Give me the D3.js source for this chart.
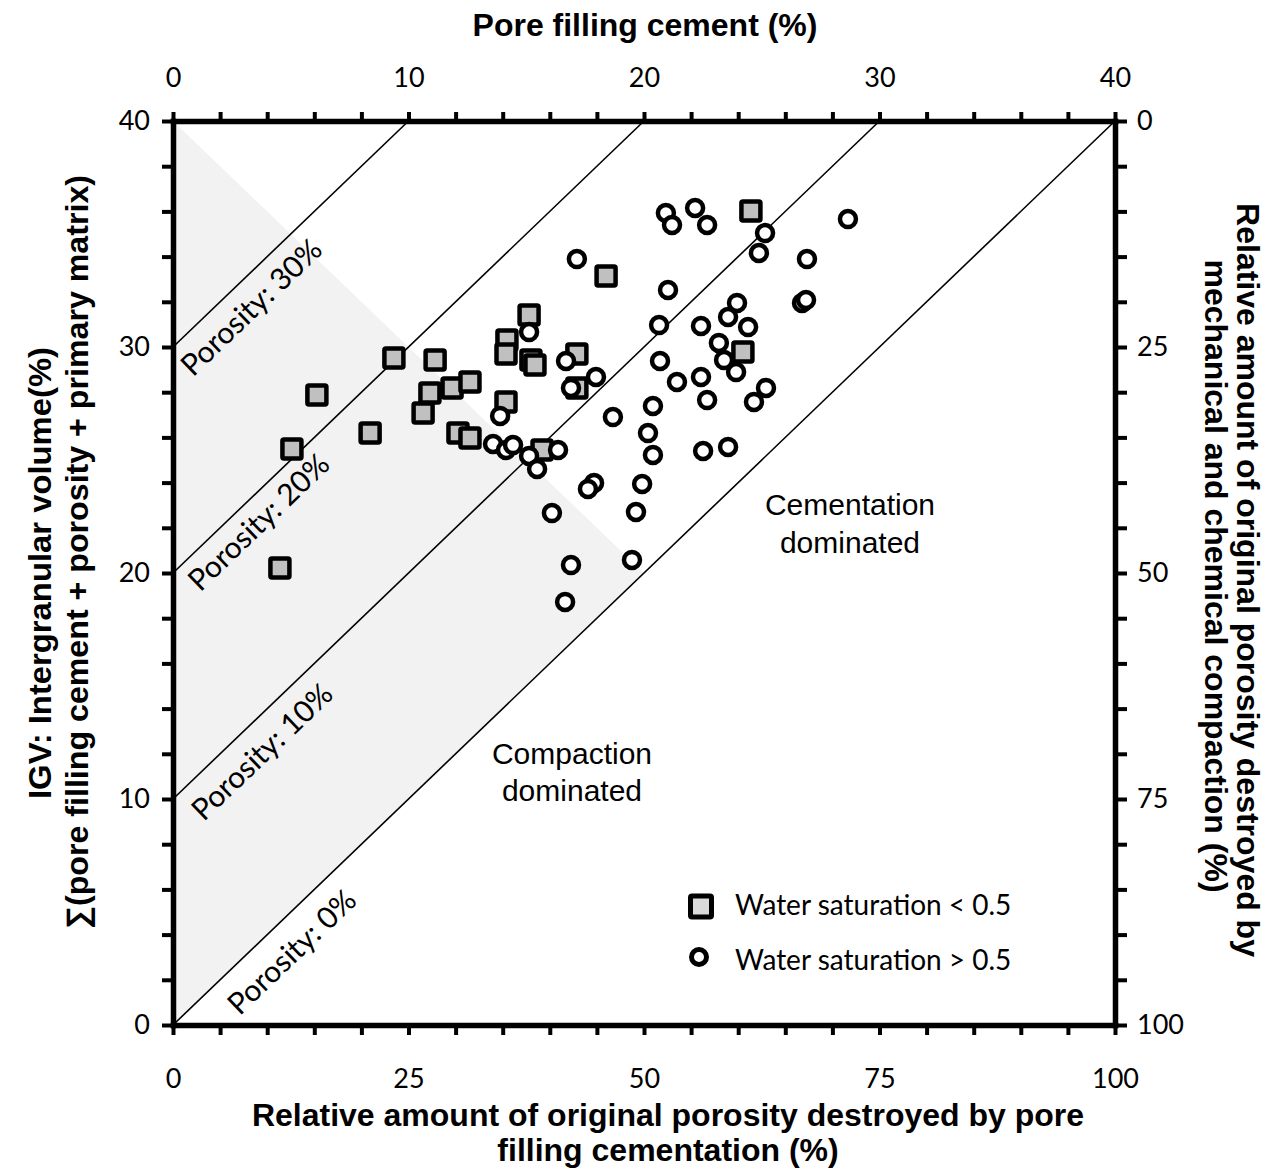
<!DOCTYPE html>
<html><head><meta charset="utf-8">
<script src="https://cdn.jsdelivr.net/npm/d3@7"></script>
<style>body{margin:0;background:#fff}</style>
</head><body>
<svg id="chart" width="1269" height="1174"></svg>
<script>
// ---- data ----
const topTicks = [0, 10, 20, 30, 40];          // Pore filling cement (%)
const bottomTicks = [0, 25, 50, 75, 100];      // Relative porosity destroyed by cementation (%)
const leftTicks = [0, 10, 20, 30, 40];         // IGV (%)
const rightTicks = [0, 25, 50, 75, 100];       // Relative porosity destroyed by compaction (%)
const porosityLevels = [0, 10, 20, 30];

// Water saturation < 0.5 (squares): pore filling cement (%), IGV (%)
const lowSwCement = [4.54, 5.05, 6.11, 8.37, 9.38, 11.13, 10.62, 10.91, 11.85, 12.61, 12.10, 12.61,
  14.14, 15.12, 14.18, 14.14, 15.20, 15.37, 17.15, 17.15, 15.67, 18.39, 24.54, 24.20];
const lowSwIGV = [20.22, 25.49, 27.88, 26.19, 29.51, 29.42, 27.08, 27.96, 28.19, 28.45, 26.19, 25.97,
  27.57, 31.42, 30.31, 29.69, 29.42, 29.20, 29.69, 28.19, 25.44, 33.14, 36.02, 29.78];

// Water saturation > 0.5 (circles)
const highSwCement = [20.93, 21.19, 22.17, 22.68, 25.14, 24.88, 28.66, 26.92, 17.15, 21.02, 23.95, 23.57,
  24.42, 26.71, 26.88, 20.64, 22.42, 23.18, 23.40, 23.91, 20.68, 22.42, 21.40, 22.68, 24.67, 25.18,
  20.38, 18.68, 20.17, 20.38, 22.51, 23.57, 17.88, 17.62, 19.92, 19.66, 16.09, 19.49, 16.90, 16.65,
  15.12, 16.69, 17.96, 16.90, 13.89, 13.59, 14.14, 14.44, 15.12, 15.46, 16.35];
const highSwIGV = [35.93, 35.40, 36.15, 35.40, 35.04, 34.16, 35.66, 33.89, 33.89, 32.52, 31.95, 31.33,
  30.88, 31.95, 32.08, 30.97, 30.93, 30.18, 29.42, 28.89, 29.38, 28.67, 28.45, 27.65, 27.57, 28.19,
  27.39, 26.90, 26.19, 25.22, 25.40, 25.58, 23.98, 23.72, 23.94, 22.70, 22.65, 20.58, 20.35, 18.72,
  30.66, 29.38, 28.67, 28.19, 26.95, 25.71, 25.44, 25.66, 25.18, 24.60, 25.44];

// ---- layout ----
const L = 173, R = 1115, T = 121, B = 1025;
const svg = d3.select('#chart');
const x = d3.scaleLinear().domain([0, 40]).range([L, R]);     // top: cement
const xb = d3.scaleLinear().domain([0, 100]).range([L, R]);   // bottom
const y = d3.scaleLinear().domain([0, 40]).range([B, T]);     // left: IGV
const yr = d3.scaleLinear().domain([0, 100]).range([T, B]);   // right

const calibri = "Lato, 'Open Sans', sans-serif";
const arial = "'Liberation Sans', Arial, sans-serif";

// shaded compaction-dominated triangle
svg.append('path')
  .attr('d', d3.line()([[x(0), y(40)], [x(0), y(0)], [x(20), y(20)]]) + 'Z')
  .attr('fill', '#f2f2f2');

// porosity lines
svg.append('g').selectAll('line').data(porosityLevels).join('line')
  .attr('x1', d => x(0)).attr('y1', d => y(d))
  .attr('x2', d => x(40 - d)).attr('y2', d => y(40))
  .attr('stroke', '#000').attr('stroke-width', 1.6);

// porosity labels
const ang = Math.atan2(y(1) - y(0), x(1) - x(0));
const ux = Math.cos(ang), uy = Math.sin(ang), nx = -uy, ny = ux;
const labelPos = {30: [-7, 36], 20: [6, 33], 10: [6, 38], 0: [54, 40]};
svg.append('g').selectAll('text').data(porosityLevels).join('text')
  .attr('transform', d => {
    const [s, dd] = labelPos[d];
    const px = x(0) + s * ux + dd * nx, py = y(d) + s * uy + dd * ny;
    return `translate(${px},${py}) rotate(${ang * 180 / Math.PI})`;
  })
  .attr('font-family', calibri).attr('font-size', 30).attr('fill', '#000')
  .text(d => `Porosity: ${d}%`);

// region labels
function multiline(lines, cx, y0, dy, font, size, weight) {
  svg.append('text').attr('font-family', font).attr('font-size', size).attr('text-anchor', 'middle')
    .attr('font-weight', weight || 'normal')
    .selectAll('tspan').data(lines).join('tspan')
    .attr('x', cx).attr('y', (d, i) => y0 + i * dy).text(d => d);
}
multiline(['Cementation', 'dominated'], 850, 515, 38, arial, 30);
multiline(['Compaction', 'dominated'], 572, 764, 37, arial, 30);

// points: squares first, circles on top
const lowSw = lowSwCement.map((c, i) => ({c, g: lowSwIGV[i]}));
const highSw = highSwCement.map((c, i) => ({c, g: highSwIGV[i]}));
const sq = 19;
svg.append('g').selectAll('rect').data(lowSw).join('rect')
  .attr('x', d => x(d.c) - sq / 2).attr('y', d => y(d.g) - sq / 2)
  .attr('width', sq).attr('height', sq).attr('rx', 1.5)
  .attr('fill', '#c0c0c0').attr('stroke', '#000').attr('stroke-width', 4.5);
svg.append('g').selectAll('circle').data(highSw).join('circle')
  .attr('cx', d => x(d.c)).attr('cy', d => y(d.g)).attr('r', 8)
  .attr('fill', '#fff').attr('stroke', '#000').attr('stroke-width', 4.5);

// legend
svg.append('rect').attr('x', 701 - 10.5).attr('y', 906.5 - 10.5).attr('width', 21).attr('height', 21)
  .attr('rx', 1.5).attr('fill', '#d9d9d9').attr('stroke', '#000').attr('stroke-width', 5);
svg.append('circle').attr('cx', 699).attr('cy', 957).attr('r', 7.5)
  .attr('fill', '#fff').attr('stroke', '#000').attr('stroke-width', 5);
svg.append('text').attr('x', 735).attr('y', 915).attr('font-family', calibri).attr('font-size', 28)
  .text('Water saturation < 0.5');
svg.append('text').attr('x', 735).attr('y', 970).attr('font-family', calibri).attr('font-size', 28)
  .text('Water saturation > 0.5');

// axes
function styleAxis(g) {
  g.select('.domain').attr('stroke', '#000').attr('stroke-width', 5.5).attr('stroke-linecap', 'square');
  g.selectAll('.tick line').attr('stroke', '#000').attr('stroke-width', 4);
  g.selectAll('.tick text').attr('font-family', calibri).attr('font-size', 27).attr('fill', '#000');
  g.attr('font-size', null).attr('font-family', null);
}
svg.append('g').attr('transform', `translate(0,${T})`)
  .call(d3.axisTop(x).tickValues(d3.range(0, 41, 2))
    .tickFormat(d => topTicks.includes(d) ? d : '').tickSize(9).tickSizeOuter(0).tickPadding(25))
  .call(styleAxis);
svg.append('g').attr('transform', `translate(0,${B})`)
  .call(d3.axisBottom(xb).tickValues(d3.range(0, 101, 5))
    .tickFormat(d => bottomTicks.includes(d) ? d : '').tickSize(10).tickSizeOuter(0).tickPadding(34))
  .call(styleAxis);
svg.append('g').attr('transform', `translate(${L},0)`)
  .call(d3.axisLeft(y).tickValues(d3.range(0, 41, 2))
    .tickFormat(d => leftTicks.includes(d) ? d : '').tickSize(11).tickSizeOuter(0).tickPadding(12))
  .call(styleAxis);
svg.append('g').attr('transform', `translate(${R},0)`)
  .call(d3.axisRight(yr).tickValues(d3.range(0, 101, 5))
    .tickFormat(d => rightTicks.includes(d) ? d : '').tickSize(12).tickSizeOuter(0).tickPadding(10))
  .call(styleAxis);

// axis titles
svg.append('text').attr('x', 645).attr('y', 36).attr('text-anchor', 'middle')
  .attr('font-family', arial).attr('font-weight', 'bold').attr('font-size', 32)
  .text('Pore filling cement (%)');
multiline(['Relative amount of original porosity destroyed by pore', 'filling cementation (%)'],
  668, 1126, 35, arial, 32, 'bold');

[['Relative amount of original porosity destroyed by', 1237, 580],
 ['mechanical and chemical compaction (%)', 1205, 576]].forEach(([t, bx, cy]) => {
  svg.append('text').attr('transform', `translate(${bx},${cy}) rotate(90)`)
    .attr('text-anchor', 'middle').attr('font-family', arial).attr('font-weight', 'bold').attr('font-size', 32)
    .text(t);
});
[['IGV: Intergranular volume(%)', 51, 573, 452],
 ['\u2211(pore filling cement + porosity + primary matrix)', 88, 552, 754]].forEach(([t, bx, cy, len]) => {
  svg.append('text').attr('transform', `translate(${bx},${cy}) rotate(-90)`)
    .attr('text-anchor', 'middle').attr('font-family', arial)
    .attr('font-weight', 'bold').attr('font-size', 31)
    .attr('textLength', len).attr('lengthAdjust', 'spacingAndGlyphs')
    .text(t);
});
</script>
</body></html>
